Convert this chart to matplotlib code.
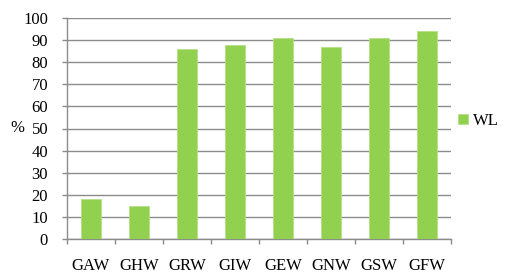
import matplotlib.pyplot as plt
import numpy as np

categories = ['GAW', 'GHW', 'GRW', 'GIW', 'GEW', 'GNW', 'GSW', 'GFW']
wl = [18, 15, 86, 88, 91, 87, 91, 94]

plt.rcParams['font.family'] = ['Liberation Serif', 'DejaVu Serif']

fig = plt.figure(figsize=(5.05, 2.78), dpi=100)
ax = fig.add_axes([67/505, 1 - 239/278, 384/505, 221/278])

x = np.arange(len(categories))
ax.bar(x, wl, width=0.4, color='#92d050', edgecolor='#b4e08a', linewidth=0.6,
       label='WL', zorder=3)

ax.set_xlim(-0.5, len(categories) - 0.5)
ax.set_ylim(0, 100)
ax.set_yticks(range(0, 101, 10))
ax.yaxis.grid(True, color='#8c8c8c', linewidth=1.0, zorder=0)

ax.set_xticks(np.arange(-0.5, len(categories), 1))
ax.set_xticklabels([])
ax.set_xticks(x, minor=True)
ax.set_xticklabels(categories, minor=True)
ax.tick_params(axis='x', which='minor', length=0, pad=14, labelsize=12)
ax.tick_params(axis='x', which='major', length=3.6, color='#8c8c8c', width=1)
ax.tick_params(axis='y', length=3.6, color='#8c8c8c', width=1, labelsize=12, pad=10)

for s in ['top', 'right']:
    ax.spines[s].set_visible(False)
for s in ['left', 'bottom']:
    ax.spines[s].set_color('#8c8c8c')
    ax.spines[s].set_linewidth(1.0)

ax.set_ylabel('%', rotation=0, fontsize=12, va='center', ha='center')
ax.yaxis.set_label_coords(-0.128, 0.5)

ax.legend(loc='center left', bbox_to_anchor=(1.0, 0.535), frameon=False,
          fontsize=12, handlelength=0.6, handleheight=0.6, handletextpad=0.3,
          borderaxespad=0.2, borderpad=0.2)

fig.savefig('out.png', dpi=100)
